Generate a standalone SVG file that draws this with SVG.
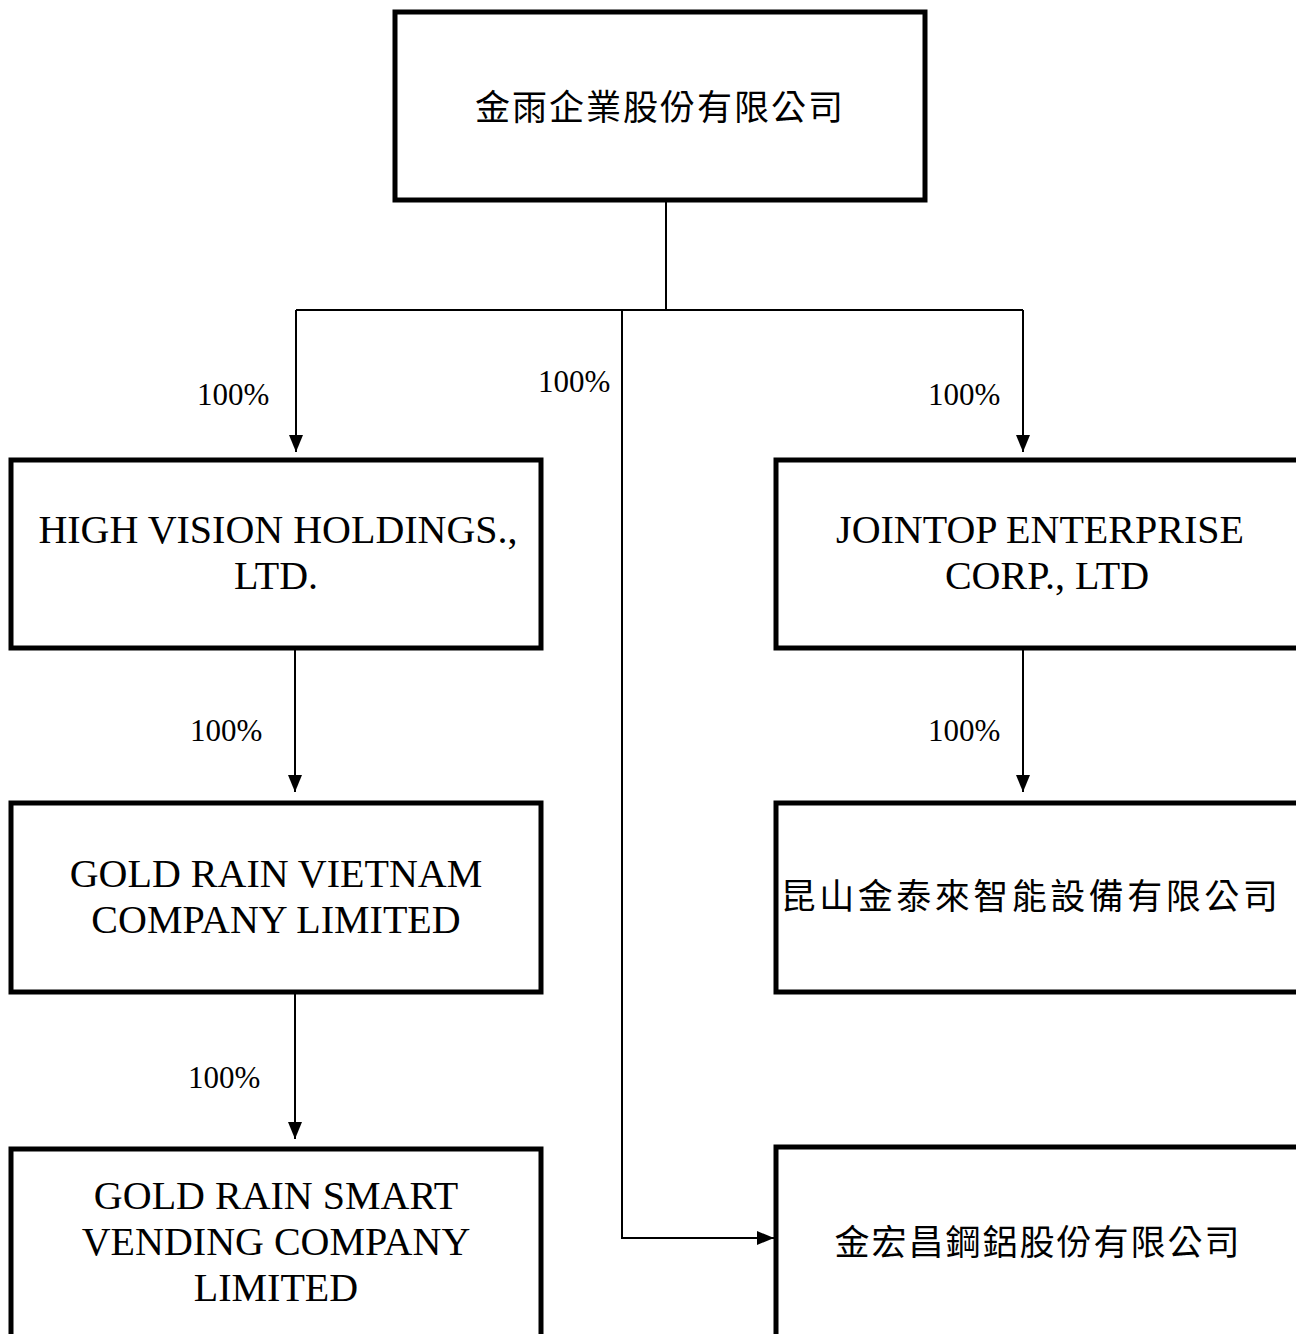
<svg xmlns="http://www.w3.org/2000/svg" width="1296" height="1334" viewBox="0 0 1296 1334">
<style>
.box{fill:#fff;stroke:#000;stroke-width:5;stroke-linejoin:miter}
.en{font-family:"Liberation Serif","Times New Roman",serif;font-size:40px;fill:#000;text-anchor:middle}
.zh{font-family:"Noto Sans CJK TC","Noto Sans CJK SC",sans-serif;font-size:35px;fill:#000;text-anchor:middle;letter-spacing:2px}
.pct{font-family:"Liberation Serif","Times New Roman",serif;font-size:31px;fill:#000}
.ln{fill:none;stroke:#000;stroke-width:2}
</style>
<defs>
<marker id="ah" markerUnits="userSpaceOnUse" markerWidth="18" markerHeight="18" viewBox="0 0 18 18" refX="17" refY="9" orient="auto">
<path d="M0,2 L17,9 L0,16 Z" fill="#000"/>
</marker>
</defs>
<rect width="1296" height="1334" fill="#fff"/>
<g id="connectors">
<path class="ln" d="M666,202 V310"/>
<path class="ln" d="M296,310 H1023"/>
<path class="ln" d="M296,310 V452" marker-end="url(#ah)"/>
<path class="ln" d="M1023,310 V452" marker-end="url(#ah)"/>
<path class="ln" d="M622,310 V1238 H774" marker-end="url(#ah)"/>
<path class="ln" d="M295,650 V792" marker-end="url(#ah)"/>
<path class="ln" d="M1023,650 V792" marker-end="url(#ah)"/>
<path class="ln" d="M295,994 V1139" marker-end="url(#ah)"/>
</g>
<g id="labels">
<text class="pct" x="197" y="405">100%</text>
<text class="pct" x="538" y="392">100%</text>
<text class="pct" x="928" y="405">100%</text>
<text class="pct" x="190" y="741">100%</text>
<text class="pct" x="928" y="741">100%</text>
<text class="pct" x="188" y="1088">100%</text>
</g>
<g id="node-parent">
<rect class="box" x="395" y="12" width="530" height="188"/>
<text class="zh" x="660" y="120">金雨企業股份有限公司</text>
</g>
<g id="node-highvision">
<rect class="box" x="11" y="460" width="530" height="188"/>
<text class="en" x="278" y="543">HIGH VISION HOLDINGS.,</text>
<text class="en" x="276" y="589">LTD.</text>
</g>
<g id="node-jointop">
<rect class="box" x="776" y="460" width="530" height="188"/>
<text class="en" x="1040" y="543">JOINTOP ENTERPRISE</text>
<text class="en" x="1047" y="589">CORP., LTD</text>
</g>
<g id="node-vietnam">
<rect class="box" x="11" y="803" width="530" height="189"/>
<text class="en" x="276" y="887">GOLD RAIN VIETNAM</text>
<text class="en" x="276" y="933">COMPANY LIMITED</text>
</g>
<g id="node-kunshan">
<rect class="box" x="776" y="803" width="530" height="189"/>
<text class="zh" x="1031" y="909" style="letter-spacing:3.5px">昆山金泰來智能設備有限公司</text>
</g>
<g id="node-smartvending">
<rect class="box" x="11" y="1149" width="530" height="200"/>
<text class="en" x="276" y="1209">GOLD RAIN SMART</text>
<text class="en" x="276" y="1255">VENDING COMPANY</text>
<text class="en" x="276" y="1301">LIMITED</text>
</g>
<g id="node-jinhongchang">
<rect class="box" x="776" y="1147" width="530" height="200"/>
<text class="zh" x="1038" y="1255">金宏昌鋼鋁股份有限公司</text>
</g>
</svg>
